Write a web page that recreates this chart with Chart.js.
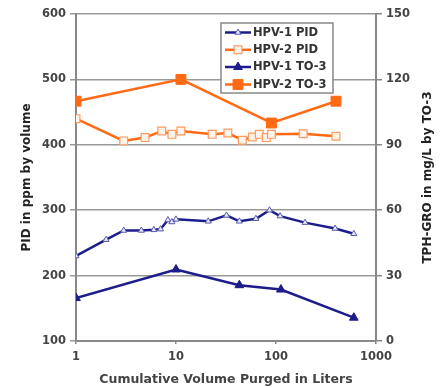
<!DOCTYPE html>
<html>
<head>
<meta charset="utf-8">
<script src="https://cdn.jsdelivr.net/npm/chart.js@4/dist/chart.umd.min.js"></script>
<style>
html,body{margin:0;padding:0;background:#fff;}
#wrap{width:447px;height:388px;position:relative;}
</style>
</head>
<body>
<div id="wrap"><canvas id="c" width="447" height="388"></canvas></div>
<script>
// ---- data ----
const xTickValues = [1, 10, 100, 1000];
const hpv1PidX = [1, 2, 3, 4.5, 6, 7, 8.3, 9.1, 10, 21, 32, 43, 63, 86, 110, 195, 390, 600];
const hpv1PidY = [230, 255, 269, 269, 270, 271, 285, 282, 286, 283, 292, 283, 287, 300, 291, 281, 272, 264];
const hpv2PidX = [1, 3, 4.9, 7.2, 9.1, 11.2, 23, 33, 46, 58, 68, 80, 90, 187, 398];
const hpv2PidY = [440, 406, 411, 421, 416, 421, 416, 418, 407, 412, 416, 411, 416, 417, 413];
const hpv1To3X = [1, 10, 43, 112, 600];
const hpv1To3Y = [19.7, 32.8, 25.6, 23.6, 10.7];
const hpv2To3X = [1, 11.2, 90, 398];
const hpv2To3Y = [110, 120, 100, 110];
const seriesNames = ['HPV-1 PID', 'HPV-2 PID', 'HPV-1 TO-3', 'HPV-2 TO-3'];
const rightTitle = 'TPH-GRO in mg/L by TO-3';

const NAVY = '#1c1c8c';
const ORANGE = '#ff6a14';
const pts = (xs, ys) => xs.map((x, i) => ({x: x, y: ys[i]}));
const FONT = {family: 'DejaVu Sans', weight: 'bold', size: 11.5};

const legendPlugin = {
  id: 'boxLegend',
  afterDraw(chart) {
    const ctx = chart.ctx;
    const x0 = 221, y0 = 23, w = 112, h = 70;
    ctx.save();
    ctx.fillStyle = '#fff';
    ctx.fillRect(x0, y0, w, h);
    ctx.strokeStyle = '#888';
    ctx.lineWidth = 1.5;
    ctx.strokeRect(x0, y0, w, h);
    const rows = [32.5, 49.8, 67, 84.5];
    chart.data.datasets.forEach((ds, i) => {
      const y = rows[i];
      ctx.strokeStyle = ds.borderColor;
      ctx.lineWidth = 2.5;
      ctx.beginPath();
      ctx.moveTo(225, y);
      ctx.lineTo(251, y);
      ctx.stroke();
      ctx.fillStyle = ds.pointBackgroundColor;
      ctx.strokeStyle = ds.pointBorderColor;
      ctx.lineWidth = ds.pointBorderWidth || 1;
      ctx.beginPath();
      const r = ds.pointRadius;
      if (ds.pointStyle === 'rect') {
        const s = Math.SQRT1_2 * r;
        ctx.rect(238 - s, y - s, 2 * s, 2 * s);
      } else {
        const side = 3 * r / Math.sqrt(3), hh = side * Math.sqrt(3) / 2;
        ctx.moveTo(238 - side / 2, y + hh / 3);
        ctx.lineTo(238 + side / 2, y + hh / 3);
        ctx.lineTo(238, y - 2 * hh / 3);
        ctx.closePath();
      }
      ctx.fill();
      ctx.stroke();
      ctx.fillStyle = '#333';
      ctx.font = 'bold 11.5px "DejaVu Sans"';
      ctx.textBaseline = 'middle';
      ctx.textAlign = 'left';
      ctx.fillText(seriesNames[i], 253, y + 0.5);
    });
    // right axis title, reading bottom-to-top
    const a = chart.chartArea;
    ctx.translate(428, (a.top + a.bottom) / 2);
    ctx.rotate(-Math.PI / 2);
    ctx.fillStyle = '#222';
    ctx.font = 'bold 12px "DejaVu Sans"';
    ctx.textAlign = 'center';
    ctx.textBaseline = 'middle';
    ctx.fillText(rightTitle, 0, 0);
    ctx.restore();
  }
};

new Chart(document.getElementById('c'), {
  type: 'line',
  data: {
    datasets: [
      {label: seriesNames[0], data: pts(hpv1PidX, hpv1PidY), yAxisID: 'y',
       borderColor: NAVY, borderWidth: 2.5, pointStyle: 'triangle', pointRadius: 3.5,
       pointBackgroundColor: '#e8e8ff', pointBorderColor: '#5a5ab0', pointBorderWidth: 1},
      {label: seriesNames[1], data: pts(hpv2PidX, hpv2PidY), yAxisID: 'y',
       borderColor: ORANGE, borderWidth: 2.5, pointStyle: 'rect', pointRadius: 5.5,
       pointBackgroundColor: '#fff3ea', pointBorderColor: '#ff9a60', pointBorderWidth: 1.2},
      {label: seriesNames[2], data: pts(hpv1To3X, hpv1To3Y), yAxisID: 'y2',
       borderColor: NAVY, borderWidth: 2.5, pointStyle: 'triangle', pointRadius: 5,
       pointBackgroundColor: NAVY, pointBorderColor: NAVY, pointBorderWidth: 1},
      {label: seriesNames[3], data: pts(hpv2To3X, hpv2To3Y), yAxisID: 'y2',
       borderColor: ORANGE, borderWidth: 2.5, pointStyle: 'rect', pointRadius: 7,
       pointBackgroundColor: ORANGE, pointBorderColor: ORANGE, pointBorderWidth: 1}
    ]
  },
  options: {
    responsive: false,
    animation: false,
    devicePixelRatio: 1,
    layout: {padding: {top: 14, left: 0, right: 0, bottom: 0}},
    plugins: {legend: {display: false}, tooltip: {enabled: false}},
    elements: {line: {tension: 0}},
    scales: {
      x: {
        type: 'logarithmic', min: 1, max: 1000,
        afterBuildTicks: s => { s.ticks = xTickValues.map(v => ({value: v, major: true})); },
        afterFit: s => { s.height = 47; },
        ticks: {callback: v => String(v), color: '#444', font: FONT, padding: 6, maxRotation: 0, autoSkip: false},
        grid: {display: true, drawOnChartArea: false, tickLength: 3, color: '#888', lineWidth: 1.5},
        border: {color: '#888', width: 2},
        title: {display: true, text: 'Cumulative Volume Purged in Liters', color: '#444',
                font: {family: 'DejaVu Sans', weight: 'bold', size: 12.5}, padding: {top: 0, bottom: 1}}
      },
      y: {
        position: 'left', min: 100, max: 600,
        afterFit: s => { s.width = 76; },
        ticks: {stepSize: 100, color: '#444', font: FONT, padding: 4},
        grid: {color: '#999', lineWidth: 1.5, tickLength: 6},
        border: {color: '#888', width: 2},
        title: {display: true, text: 'PID in ppm by volume', color: '#222',
                font: {family: 'DejaVu Sans', weight: 'bold', size: 12}, padding: {top: 20}}
      },
      y2: {
        position: 'right', min: 0, max: 150,
        afterFit: s => { s.width = 71; },
        ticks: {stepSize: 30, color: '#444', font: FONT, padding: 4},
        grid: {drawOnChartArea: false, color: '#888', lineWidth: 1.5, tickLength: 6},
        border: {color: '#888', width: 2},
        title: {display: false}
      }
    }
  },
  plugins: [legendPlugin]
});
</script>
</body>
</html>
